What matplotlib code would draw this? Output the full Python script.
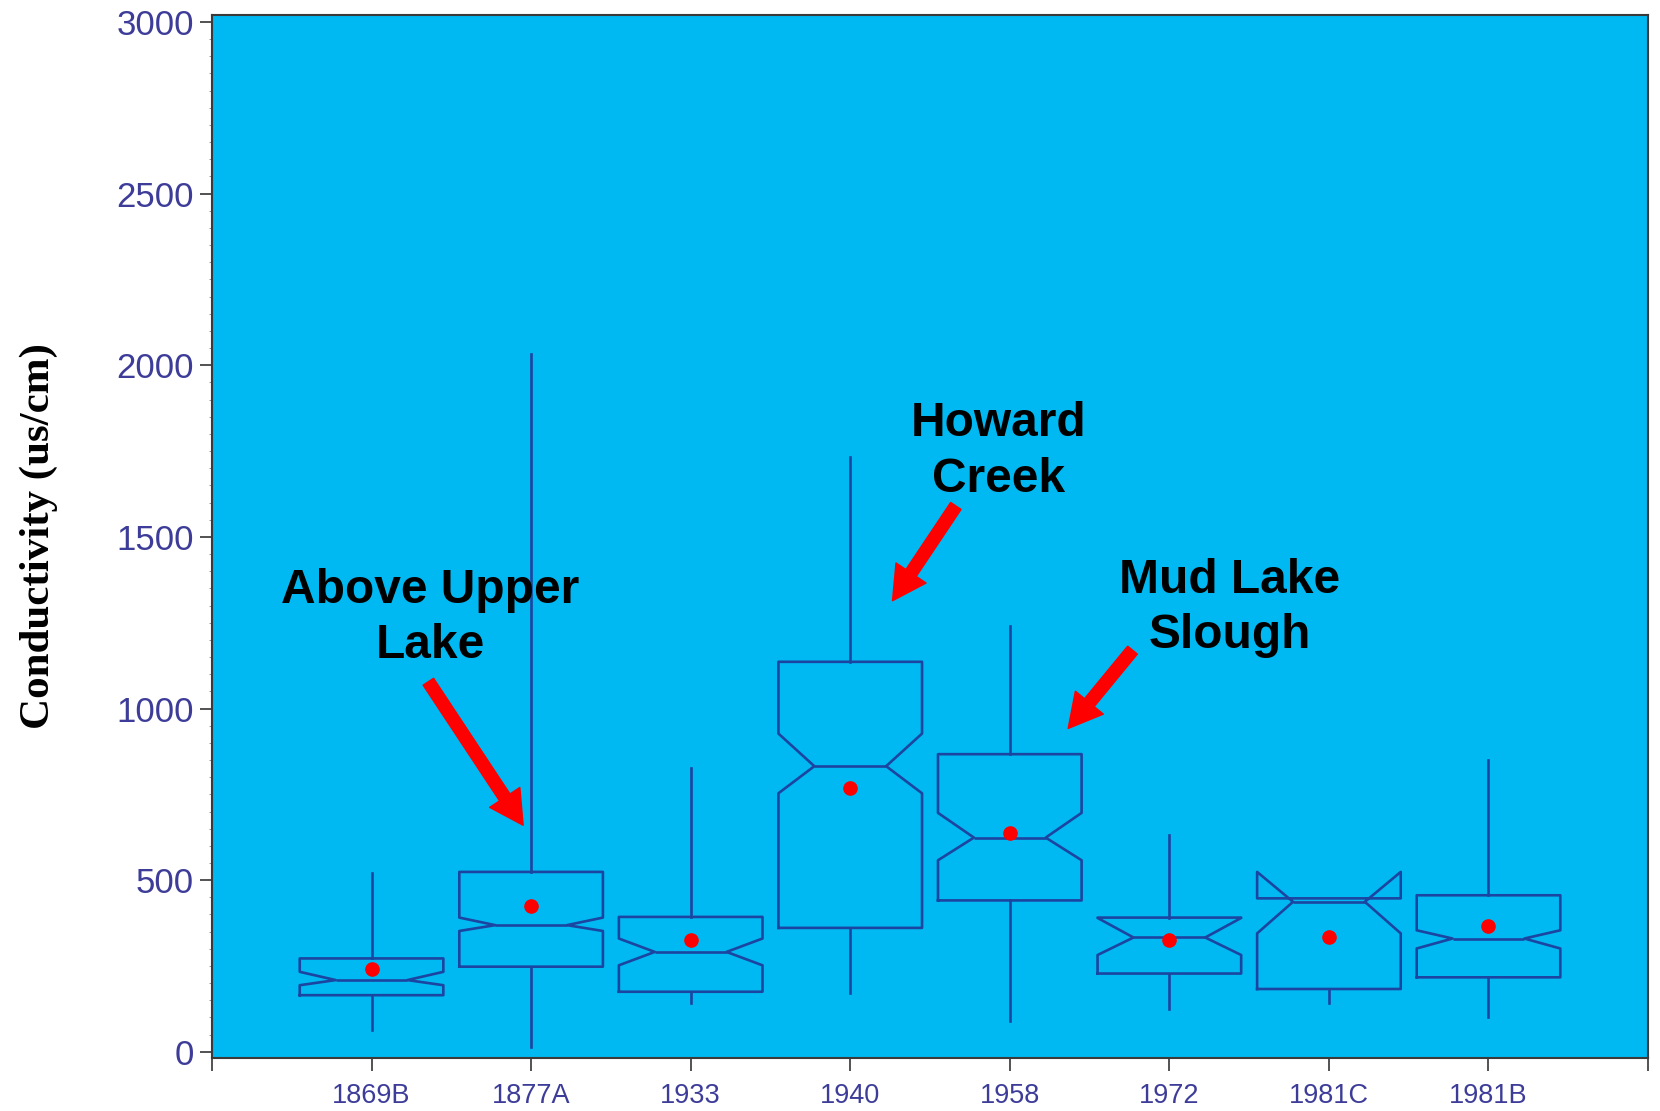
import matplotlib

matplotlib.use("Agg")
import matplotlib.pyplot as plt
from matplotlib.ticker import MultipleLocator

# stations along the x axis
stations = ["1869B", "1877A", "1933", "1940", "1958", "1972", "1981C", "1981B"]

# box statistics (us/cm)
whisker_low = [63, 15, 142, 170, 89, 126, 141, 102]
quart_1 = [165, 248, 175, 361, 441, 228, 183, 217]
notch_low = [194, 352, 252, 753, 558, 282, 345, 301]
medians = [209, 369, 291, 832, 624, 333, 437, 330]
notch_high = [233, 391, 330, 927, 696, 390, 524, 354]
quart_3 = [272, 524, 393, 1136, 867, 391, 447, 456]
whisker_high = [521, 2034, 826, 1733, 1240, 631, 447, 850]
means = [241, 424, 327, 769, 636, 327, 335, 366]

y_ticks = [0, 500, 1000, 1500, 2000, 2500, 3000]

# annotation labels: text, text anchor (x, baseline of last line), arrow tail, arrow tip
labels = ["Above Upper\nLake", "Howard\nCreek", "Mud Lake\nSlough"]
label_xy = [(1.366, 1146), (4.93, 1631), (6.378, 1175)]
arrow_tail = [(1.356, 1078), (4.662, 1590), (5.769, 1170)]
arrow_tip = [(1.950, 660), (4.265, 1314), (5.366, 942)]

BG = "#00b9f2"
LINE = "#1b45a0"
TICK_TXT = "#3d3d99"

plt.rcParams["font.family"] = ["Liberation Sans", "DejaVu Sans"]

fig = plt.figure(figsize=(16.6, 11.11), dpi=100)
ax = fig.add_axes([0.1277, 0.0477, 0.8651, 0.9388])
ax.set_facecolor(BG)

stats = []
for i, name in enumerate(stations):
    stats.append(
        dict(
            label=name,
            whislo=whisker_low[i],
            q1=quart_1[i],
            cilo=notch_low[i],
            med=medians[i],
            cihi=notch_high[i],
            q3=quart_3[i],
            whishi=whisker_high[i],
            mean=means[i],
            fliers=[],
        )
    )

line_props = dict(color=LINE, linewidth=1.9)
ax.bxp(
    stats,
    positions=range(1, len(stations) + 1),
    widths=0.9,
    shownotches=True,
    showmeans=True,
    showcaps=False,
    showfliers=False,
    boxprops=line_props,
    whiskerprops=line_props,
    medianprops=line_props,
    meanprops=dict(marker="o", markerfacecolor="red", markeredgecolor="red", markersize=9.5),
)

ax.set_xlim(0, 9)
ax.set_ylim(-18, 3020)
ax.set_xticks(range(0, 10))
ax.set_xticklabels([""] + stations + [""])
ax.set_yticks(y_ticks)
ax.set_yticklabels([str(v) for v in y_ticks])
ax.yaxis.set_minor_locator(MultipleLocator(50))

ax.tick_params(axis="x", length=9, width=1.3, color="#444444", pad=9,
               labelsize=19.5, labelcolor=TICK_TXT)
ax.tick_params(axis="y", which="major", length=9, width=1.3, color="#444444", pad=4,
               labelsize=25, labelcolor=TICK_TXT)
ax.tick_params(axis="y", which="minor", length=2, width=0.6, color="#888888")

for side in ["left", "bottom", "top", "right"]:
    ax.spines[side].set_color("#3a3a3a")
    ax.spines[side].set_linewidth(1.5)

ax.set_ylabel("Conductivity (us/cm)", family=["Liberation Serif", "DejaVu Serif"],
              fontsize=31, fontweight="bold", color="black")
ax.yaxis.set_label_coords(-0.107, 0.5)

for text, xy in zip(labels, label_xy):
    ax.text(xy[0], xy[1], text, ha="center", va="baseline", fontsize=34.5,
            fontweight="bold", color="black", linespacing=1.3)

for tail, tip in zip(arrow_tail, arrow_tip):
    ax.annotate(
        "",
        xy=tip,
        xytext=tail,
        arrowprops=dict(
            arrowstyle="simple,head_length=1.2,head_width=1.3,tail_width=0.45",
            color="red",
            mutation_scale=20,
            shrinkA=0,
            shrinkB=0,
        ),
    )

fig.savefig("out.png", dpi=100)
